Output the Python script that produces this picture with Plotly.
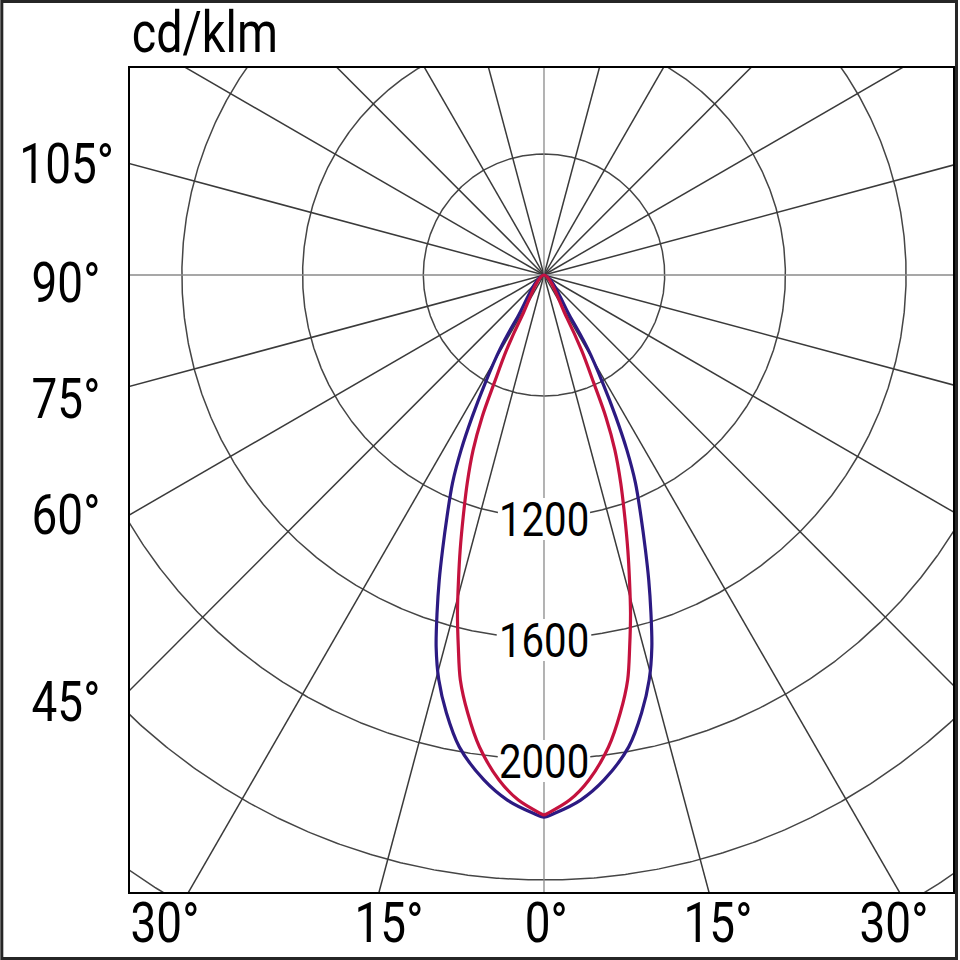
import numpy as np
import plotly.graph_objects as go

# ---------------- data ----------------
# luminous intensity (cd/klm) versus gamma angle (deg from nadir); curves are symmetric
blue_gamma = [0, 1.2, 4.0, 6.8, 10.2, 12.6, 14.6, 16.2, 17.6, 19.0, 20.3, 21.9, 23.8, 25.4, 26.9, 28.6, 30.7, 32.2, 33, 45, 60, 75, 90]
blue_cd = [2192, 2179, 2140, 2081, 1985, 1883, 1783, 1681, 1572, 1466, 1369, 1262, 1151, 1040, 926, 807, 688, 564, 400, 400, 400, 400, 400]

red_gamma = [0, 0.5, 2.8, 5.1, 7.8, 9.9, 11.7, 13.0, 14.4, 15.7, 17.0, 18.5, 20.3, 22.1, 23.6, 24.8, 26.6, 28.2, 29, 45, 60, 75, 90]
red_cd = [2185, 2178, 2138, 2076, 1975, 1870, 1767, 1662, 1553, 1447, 1350, 1244, 1133, 1024, 912, 793, 677, 557, 400, 400, 400, 400, 400]

ring_values = [800, 1200, 1600, 2000, 2400, 2800]
ring_label_values = [1200, 1600, 2000]
ring_labels = ["1200", "1600", "2000"]
ray_angles = list(range(0, 360, 15))
bottom_angles = [-30, -15, 0, 15, 30]
bottom_labels = ["30°", "15°", "0°", "15°", "30°"]
left_angles = [105, 90, 75, 60, 45]
left_labels = ["105°", "90°", "75°", "60°", "45°"]
unit_label = "cd/klm"
r_origin = 400  # radial value at the pole

# ---------------- layout geometry (pixels) ----------------
W = H = 960
frame_l, frame_r, frame_t, frame_b = 130, 955, 68, 892
cx, cy = 545, 275
px_per_unit = 121.0 / 400.0

X0 = (frame_l - cx) / px_per_unit
X1 = (frame_r - cx) / px_per_unit
Y1 = (cy - frame_t) / px_per_unit
Y0 = -(frame_b - cy) / px_per_unit

FONT = "Roboto, sans-serif"
BLUE = "#2C1A82"
RED = "#C4123E"
label_shift_px = 2              # ring label centre sits a little below its circle
gap_half_w = 46 / px_per_unit   # half width of the gap left for a ring label
gap_half_h = 21 / px_per_unit   # half height of that gap


def to_xy(gamma, value, side):
    g = np.radians(np.asarray(gamma, dtype=float))
    rr = np.asarray(value, dtype=float) - r_origin
    return side * rr * np.sin(g), -rr * np.cos(g)


def curve_path(gamma, values):
    xl, yl = to_xy(gamma, values, -1)
    xr, yr = to_xy(gamma, values, 1)
    xs = np.concatenate([xl[::-1], xr[1:]])
    ys = np.concatenate([yl[::-1], yr[1:]])
    keep = [0]
    for i in range(1, len(xs)):
        if abs(xs[i] - xs[keep[-1]]) > 1e-6 or abs(ys[i] - ys[keep[-1]]) > 1e-6:
            keep.append(i)
    return xs[keep], ys[keep]


fig = go.Figure()

# grid circles (with a gap where a ring carries a label)
t = np.linspace(0, 2 * np.pi, 1441)
gx, gy = [], []
for v in ring_values:
    rr = v - r_origin
    xs, ys = rr * np.sin(t), rr * np.cos(t)
    for x, y in zip(xs, ys):
        if v in ring_label_values and y < 0 and abs(x) < gap_half_w:
            if gx and gx[-1] is not None:
                gx.append(None)
                gy.append(None)
            continue
        gx.append(x)
        gy.append(y)
    gx.append(None)
    gy.append(None)
fig.add_trace(go.Scatter(x=gx, y=gy, mode="lines", line=dict(color="#454545", width=1.5),
                         hoverinfo="skip"))

# radial rays
far = 6000
dx, dy, ax_x, ax_y = [], [], [], []
label_centres = [-(v - r_origin) - label_shift_px / px_per_unit for v in ring_label_values]
for a in ray_angles:
    ex, ey = far * np.sin(np.radians(a)), -far * np.cos(np.radians(a))
    if a == 0:
        # downward axis, interrupted behind the ring labels
        start = 0.0
        for c in label_centres:
            ax_x += [0, 0, None]
            ax_y += [start, c + gap_half_h, None]
            start = c - gap_half_h
        ax_x += [0, 0, None]
        ax_y += [start, ey, None]
    elif a % 90 == 0:
        ax_x += [0, ex, None]
        ax_y += [0, ey, None]
    else:
        dx += [0, ex, None]
        dy += [0, ey, None]
fig.add_trace(go.Scatter(x=dx, y=dy, mode="lines", line=dict(color="#3a3a3a", width=1.5),
                         hoverinfo="skip"))
fig.add_trace(go.Scatter(x=ax_x, y=ax_y, mode="lines", line=dict(color="#8a8a8a", width=1.3),
                         hoverinfo="skip"))

# intensity curves
bx, by = curve_path(blue_gamma, blue_cd)
fig.add_trace(go.Scatter(x=bx, y=by, mode="lines",
                         line=dict(color=BLUE, width=3.2, shape="spline", smoothing=0.9), name="C0-C180"))
rx, ry = curve_path(red_gamma, red_cd)
fig.add_trace(go.Scatter(x=rx, y=ry, mode="lines",
                         line=dict(color=RED, width=3.2, shape="spline", smoothing=0.9), name="C90-C270"))

ann = []
# ring labels
for v, txt in zip(ring_label_values, ring_labels):
    ann.append(dict(x=0, y=-(v - r_origin), xref="x", yref="y", text=txt, showarrow=False,
                    font=dict(family=FONT, size=49, color="black"), yshift=-label_shift_px))

# bottom angle labels (where rays meet the bottom frame)
bottom_nudge = [-24, 10, 2, 9, -5]
for a, txt, nx in zip(bottom_angles, bottom_labels, bottom_nudge):
    xb = -Y0 * np.tan(np.radians(a))
    ann.append(dict(x=xb, y=0, xref="x", yref="paper", text=txt, showarrow=False,
                    xanchor="center", yanchor="middle", yshift=-31, xshift=nx,
                    font=dict(family=FONT, size=56, color="black")))

# left angle labels (where rays meet the left frame)
left_nudge = [0, -8, -13, 0, -12]
for a, txt, ny in zip(left_angles, left_labels, left_nudge):
    yl = X0 / np.tan(np.radians(a))
    ann.append(dict(x=0, y=yl, xref="paper", yref="y", text=txt, showarrow=False,
                    xanchor="center", yanchor="middle", xshift=-(frame_l - 66), yshift=ny,
                    font=dict(family=FONT, size=56, color="black")))

# unit label
ann.append(dict(x=0, y=1, xref="paper", yref="paper", text=unit_label, showarrow=False,
                xanchor="left", yanchor="bottom", yshift=0, xshift=0,
                font=dict(family=FONT, size=57, color="black")))

pw = frame_r - frame_l
ph = frame_b - frame_t


def px_to_paper_x(p):
    return (p - frame_l) / pw


def px_to_paper_y(p):
    return (frame_b - p) / ph


fig.update_layout(
    width=W, height=H,
    margin=dict(l=frame_l, r=W - frame_r, t=frame_t, b=H - frame_b, pad=0),
    paper_bgcolor="white", plot_bgcolor="white",
    showlegend=False,
    annotations=ann,
    shapes=[dict(type="rect", xref="paper", yref="paper",
                 x0=px_to_paper_x(1.5), x1=px_to_paper_x(W - 1.5),
                 y0=px_to_paper_y(H - 1.5), y1=px_to_paper_y(1.5),
                 line=dict(color="#262626", width=3), layer="above")],
)
fig.update_xaxes(range=[X0, X1], showgrid=False, zeroline=False, showticklabels=False,
                 ticks="", showline=True, linecolor="black", linewidth=2, mirror=True)
fig.update_yaxes(range=[Y0, Y1], showgrid=False, zeroline=False, showticklabels=False,
                 ticks="", showline=True, linecolor="black", linewidth=2, mirror=True)

# page tweaks: no body margin, and a condensed look for the (real) text labels
post = """
document.body.style.margin = '0';
document.body.style.overflow = 'hidden';
var gd = document.getElementById('{plot_id}');
var n = %d;
gd.querySelectorAll('g.annotation').forEach(function(a) {
  var idx = parseInt(a.getAttribute('data-index'));
  var g = a.querySelector('g.annotation-text-g');
  if (!g) return;
  var bb = g.getBBox();
  var px = (idx === n - 1) ? bb.x : bb.x + bb.width / 2;
  var old = g.getAttribute('transform') || '';
  g.setAttribute('transform', old + ' translate(' + px + ',0) scale(0.82,1) translate(' + (-px) + ',0)');
});
""" % len(ann)

fig.write_html("out.html", post_script=post, config={"displayModeBar": False})
